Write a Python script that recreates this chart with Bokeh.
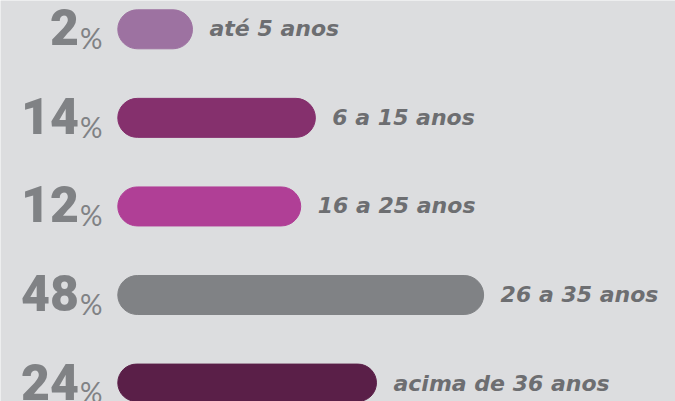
import numpy as np
from bokeh.plotting import figure
from bokeh.models import ColumnDataSource, Range1d
from bokeh.core.properties import value
from bokeh.embed import file_html
from bokeh.resources import INLINE

# ---- data ----
categories = ["até 5 anos", "6 a 15 anos", "16 a 25 anos", "26 a 35 anos", "acima de 36 anos"]
percentages = [2, 14, 12, 48, 24]
bar_colors = ["#9d72a1", "#85306d", "#b03f96", "#808285", "#5a1f48"]

# ---- layout constants (pixels) ----
BG = "#dcdddf"
W, H = 675, 401
X0 = 117.3          # left edge of bars
K = 52.8            # bar length per sqrt(percent)
Y0 = 28.8           # center of first row
STEP = 88.57        # row spacing
BAR_H = 39
GAP = 17

vals = np.array(percentages, dtype=float)
ys = Y0 + STEP * np.arange(len(vals))
rights = X0 + K * np.sqrt(vals)

src = ColumnDataSource(dict(
    y=ys, left=[X0] * len(vals), right=rights, color=bar_colors,
    num=[str(v) for v in percentages], pct=["%"] * len(vals),
    label=categories, lx=rights + GAP,
    nx=[78.5] * len(vals), px=[79.5] * len(vals),
    ny=ys - 2, py=ys + 8.7, ly=ys - 0.5,
))

p = figure(width=W, height=H, output_backend="svg", toolbar_location=None,
           x_range=Range1d(0, W), y_range=Range1d(H, 0), min_border=0)
p.background_fill_color = BG
p.border_fill_color = BG
p.outline_line_color = None
p.axis.visible = False
p.grid.visible = False

p.hbar(y="y", left="left", right="right", height=BAR_H, color="color",
       border_radius=20, source=src)

p.text(x="nx", y="ny", text="num", source=src, text_align="right",
       text_baseline="alphabetic", text_font=value("Roboto Black"),
       text_font_style="bold", text_font_size="50px", text_color="#808285")
p.text(x="px", y="py", text="pct", source=src, text_align="left",
       text_baseline="alphabetic", text_font=value("Lato"),
       text_font_size="28px", text_color="#808285")
p.text(x="lx", y="ly", text="label", source=src, text_align="left",
       text_baseline="alphabetic", text_font=value("DejaVu Sans"),
       text_font_style="bold italic", text_font_size="22px", text_color="#6d6e71")

open("out.html", "w").write(file_html(p, INLINE))
